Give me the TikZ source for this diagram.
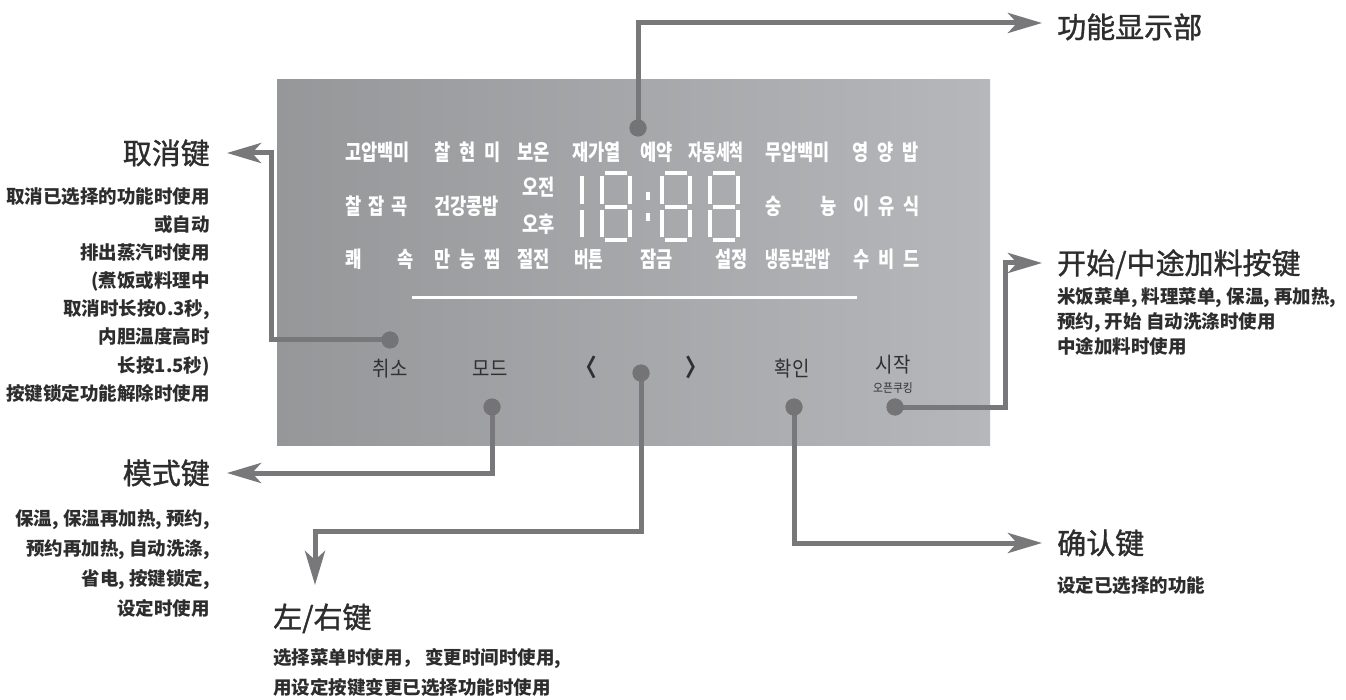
\documentclass[tikz,border=0pt]{standalone}
\usepackage{fontspec}
\usepackage{graphicx}
\usetikzlibrary{arrows.meta}
\newfontfamily\zh{Noto Sans CJK SC}
\newfontfamily\zht[FakeBold=1.2]{Noto Sans CJK SC}
\newfontfamily\ko[FakeStretch=0.8]{Noto Sans CJK KR}
\newfontfamily\kob[FakeStretch=0.9]{Noto Sans CJK KR}
\definecolor{panelL}{RGB}{150,151,153}
\definecolor{panelR}{RGB}{182,183,186}
\definecolor{lineGray}{RGB}{120,120,122}
\definecolor{dotGray}{RGB}{116,116,119}
\definecolor{textDark}{RGB}{45,45,45}
\definecolor{btnText}{RGB}{48,48,50}
\newcommand\eightdigit[1]{%
  \draw[seg] (#1+3,173) -- (#1+25,173);
  \draw[seg] (#1+28,176) -- (#1+28,204);
  \draw[seg] (#1+28,210) -- (#1+28,237);
  \draw[seg] (#1+3,240) -- (#1+25,240);
  \draw[seg] (#1,210) -- (#1,237);
  \draw[seg] (#1,176) -- (#1,204);
  \draw[seg] (#1+3,207) -- (#1+25,207);}
\begin{document}
\begin{tikzpicture}[x=1pt,y=-1pt,
  conn/.style={draw=lineGray, line width=5pt, -{Stealth[length=34pt,width=20pt,inset=9pt]}},
  dotnode/.style={circle, fill=dotGray, minimum size=17pt, inner sep=0pt},
  title/.style={font=\zht\fontsize{29}{34}\selectfont, text=textDark, inner sep=0pt},
  desc/.style={font=\zh\bfseries\fontsize{18.5}{22}\selectfont, text=textDark, inner sep=0pt},
  ptext/.style={font=\ko\bfseries\fontsize{22}{26}\selectfont, text=white, inner sep=0pt, anchor=base west},
  btn/.style={font=\kob\fontsize{21}{24}\selectfont, text=btnText, inner sep=0pt, anchor=base},
  seg/.style={draw=white, line width=4pt}]
\useasboundingbox (0,0) rectangle (1346,700);
\fill[white] (0,0) rectangle (1346,700);
\shade[left color=panelL, right color=panelR] (277,80) rectangle (990,445);

% panel row 1
\node[ptext] (r1a) at (345,161) {고압백미};
\node[ptext] (r1b) at (434,161) {찰\hspace{9pt}현\hspace{9pt}미};
\node[ptext] (r1c) at (517,161) {보온};
\node[ptext] (r1d) at (572,161) {재가열};
\node[ptext] (r1e) at (640,161) {예약};
\node[ptext] (r1f) at (688,161) {\scalebox{0.86}[1]{자동세척}};
\node[ptext] (r1g) at (765,161) {무압백미};
\node[ptext] (r1h) at (852,161) {영\hspace{9pt}양\hspace{9pt}밥};
% panel row 2
\node[ptext] (r2a) at (345,215) {찰\hspace{7pt}잡\hspace{7pt}곡};
\node[ptext] (r2b) at (434,215) {건강콩밥};
\node[ptext] (r2c) at (522,196) {오전};
\node[ptext] (r2d) at (522,233) {오후};
\node[ptext] (r2e) at (765,215) {숭};
\node[ptext] (r2f) at (820,215) {늉};
\node[ptext] (r2g) at (853,215) {이\hspace{9pt}유\hspace{9pt}식};
% panel row 3
\node[ptext] (r3a) at (345,268) {쾌};
\node[ptext] (r3b) at (397,268) {속};
\node[ptext] (r3c) at (434,268) {만\hspace{9pt}능\hspace{9pt}찜};
\node[ptext] (r3d) at (517,268) {절전};
\node[ptext] (r3e) at (574,268) {\scalebox{0.9}[1]{버튼}};
\node[ptext] (r3f) at (640,268) {잠금};
\node[ptext] (r3g) at (715,268) {설정};
\node[ptext] (r3h) at (765,268) {\scalebox{0.8}[1]{냉동보관밥}};
\node[ptext] (r3i) at (853,268) {수\hspace{9pt}비\hspace{9pt}드};

% seven segment 18:88
\draw[seg] (582,176) -- (582,204);
\draw[seg] (582,210) -- (582,237);
\eightdigit{602}
\draw[seg] (648,192) -- (648,200);
\draw[seg] (648,213) -- (648,221);
\eightdigit{662}
\eightdigit{710}

% separator
\draw[white, line width=3pt] (412,298) -- (857,298);

% buttons
\node[btn] (bCancel) at (390,376) {취소};
\node[btn] (bMode) at (490,376) {모드};
\node[btn, font=\kob\bfseries\fontsize{24}{26}\selectfont] (bLeft) at (586,377) {〈};
\node[btn, font=\kob\bfseries\fontsize{24}{26}\selectfont] (bRight) at (696,377) {〉};
\node[btn] (bOk) at (792,376) {확인};
\node[btn] (bStart) at (893,372) {시작};
\node[btn, font=\kob\fontsize{12}{14}\selectfont] (bOpen) at (893,392) {오픈쿠킹};

% dots
\node[dotnode] (dDisp) at (638,128) {};
\node[dotnode] (dCancel) at (390,340) {};
\node[dotnode] (dMode) at (492,407) {};
\node[dotnode] (dLR) at (641,373) {};
\node[dotnode] (dOk) at (794,407) {};
\node[dotnode] (dStart) at (895,407) {};

% connector ends
\coordinate (cDisp) at (1042,23);
\coordinate (kCancel) at (271,153);
\coordinate (cCancel) at (227,153);
\coordinate (cMode) at (227,473);
\coordinate (kLR) at (315,531);
\coordinate (cLR) at (315,585);
\coordinate (cOk) at (1042,543);
\coordinate (kStart) at (1005,263);
\coordinate (cStart) at (1042,263);

\draw[conn] (dDisp.center) |- (cDisp);
\draw[conn] (dCancel.center) -| (kCancel) -- (cCancel);
\draw[conn] (dMode.center) |- (cMode);
\draw[conn] (dLR.center) |- (kLR) -- (cLR);
\draw[conn] (dOk.center) |- (cOk);
\draw[conn] (dStart.center) -| (kStart) -- (cStart);
\node[dotnode] (dDisp2) at (dDisp) {};
\node[dotnode] (dCancel2) at (dCancel) {};
\node[dotnode] (dMode2) at (dMode) {};
\node[dotnode] (dLR2) at (dLR) {};
\node[dotnode] (dOk2) at (dOk) {};
\node[dotnode] (dStart2) at (dStart) {};

% titles
\node[title, anchor=base west] (tDisp) at (1057,38) {功能显示部};
\node[title, anchor=base east] (tCancel) at (210,164) {取消键};
\node[title, anchor=base east] (tMode) at (210,484) {模式键};
\node[title, anchor=base west] (tLR) at (273,628) {左/右键};
\node[title, anchor=base west] (tOk) at (1057,554) {确认键};
\node[title, anchor=base west] (tStart) at (1057,274) {开始/中途加料按键};

% descriptions
\node[desc, anchor=base east] (c1) at (210,204) {取消已选择的功能时使用};
\node[desc, anchor=base east] (c2) at (210,232) {或自动};
\node[desc, anchor=base east] (c3) at (210,260) {排出蒸汽时使用};
\node[desc, anchor=base east] (c4) at (210,288) {(煮饭或料理中};
\node[desc, anchor=base east] (c5) at (210,316) {取消时长按0.3秒,};
\node[desc, anchor=base east] (c6) at (210,344) {内胆温度高时};
\node[desc, anchor=base east] (c7) at (210,372) {长按1.5秒)};
\node[desc, anchor=base east] (c8) at (210,400) {按键锁定功能解除时使用};

\node[desc, anchor=base east] (m1) at (210,525) {保温, 保温再加热, 预约,};
\node[desc, anchor=base east] (m2) at (210,555) {预约再加热, 自动洗涤,};
\node[desc, anchor=base east] (m3) at (210,585) {省电, 按键锁定,};
\node[desc, anchor=base east] (m4) at (210,615) {设定时使用};

\node[desc, anchor=base west] (l1) at (273,664) {选择菜单时使用， 变更时间时使用,};
\node[desc, anchor=base west] (l2) at (273,694) {用设定按键变更已选择功能时使用};

\node[desc, anchor=base west] (o1) at (1057,592) {设定已选择的功能};

\node[desc, anchor=base west] (s1) at (1057,304) {米饭菜单, 料理菜单, 保温, 再加热,};
\node[desc, anchor=base west] (s2) at (1057,329) {预约, 开始 自动洗涤时使用};
\node[desc, anchor=base west] (s3) at (1057,354) {中途加料时使用};
\end{tikzpicture}
\end{document}
